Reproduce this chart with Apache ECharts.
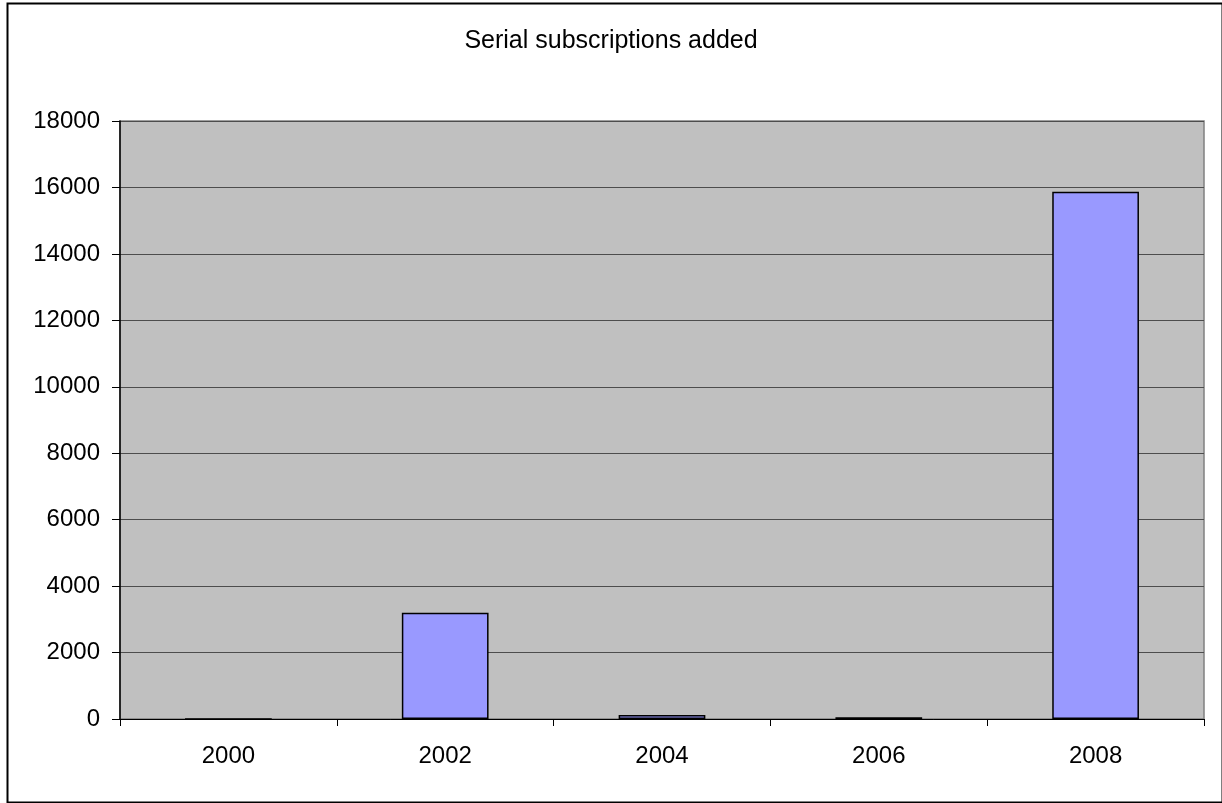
<!DOCTYPE html>
<html><head><meta charset="utf-8">
<script src="https://cdn.jsdelivr.net/npm/echarts@6/dist/echarts.min.js"></script>
<style>html,body{margin:0;padding:0;background:#fff;}#c{width:1222px;height:803px;}</style>
</head><body><div id="c"></div>
<script>
const title = 'Serial subscriptions added';
const categories = ['2000', '2002', '2004', '2006', '2008'];
const values = [0, 3200, 120, 50, 15870];
const yTicks = [0, 2000, 4000, 6000, 8000, 10000, 12000, 14000, 16000, 18000];

const chart = echarts.init(document.getElementById('c'));
chart.setOption({
  animation: false,
  backgroundColor: '#ffffff',
  title: {
    text: title, left: 'center', top: 24,
    textStyle: { fontFamily: 'Liberation Sans, Arial', fontSize: 25, fontWeight: 'normal', color: '#000' }
  },
  graphic: [{
    type: 'rect', left: 5, top: 1, z: -10,
    shape: { width: 1215, height: 799 },
    style: { fill: 'none', stroke: '#000', lineWidth: 2 }
  }],
  grid: {
    left: 120, right: 18, top: 121, bottom: 84,
    show: true, backgroundColor: '#c0c0c0', borderColor: '#808080', borderWidth: 1.5
  },
  xAxis: {
    type: 'category', data: categories,
    axisLine: { lineStyle: { color: '#000', width: 1 } },
    axisTick: { show: true, length: 7, lineStyle: { color: '#000' } },
    axisLabel: { margin: 25, fontFamily: 'Liberation Sans, Arial', fontSize: 24, color: '#000' }
  },
  yAxis: {
    type: 'value', min: yTicks[0], max: yTicks[yTicks.length - 1], interval: yTicks[1] - yTicks[0],
    axisLine: { show: true, lineStyle: { color: '#000', width: 1.5 } },
    axisTick: { show: true, length: 8, lineStyle: { color: '#000' } },
    splitLine: { lineStyle: { color: '#4d4d4d', width: 1 } },
    axisLabel: { margin: 20, fontFamily: 'Liberation Sans, Arial', fontSize: 24, color: '#000',
      formatter: v => String(v) }
  },
  series: [{
    type: 'bar', data: values, barWidth: '40%',
    itemStyle: { color: '#9999ff', borderColor: '#000', borderWidth: 1.5 }
  }]
});
</script></body></html>
